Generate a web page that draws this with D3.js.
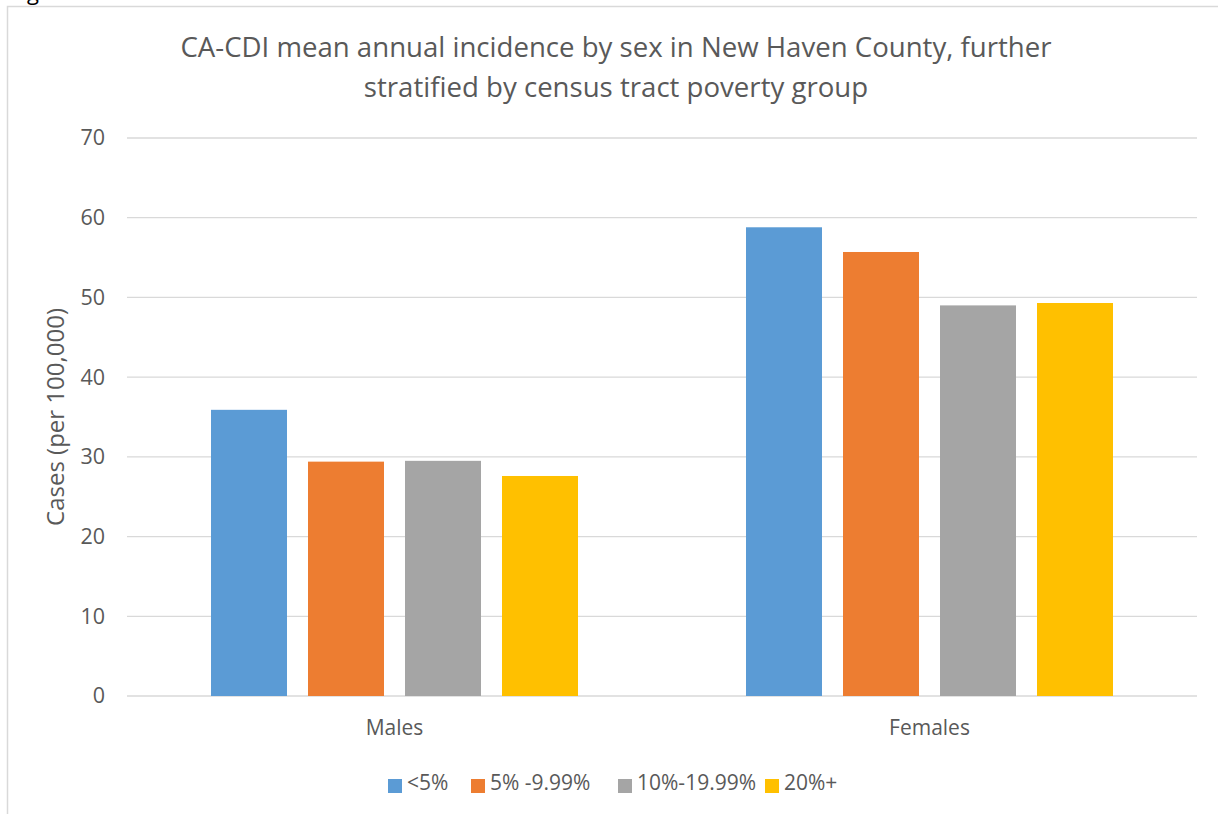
<!DOCTYPE html>
<html>
<head>
<meta charset="utf-8">
<script src="https://cdn.jsdelivr.net/npm/d3@7"></script>
<style>
  html, body { margin: 0; padding: 0; background: #fff; }
  svg { display: block; }
  text { font-family: "Open Sans", Lato, sans-serif; fill: #595959; }
</style>
</head>
<body>
<svg id="chart" width="1218" height="814"></svg>
<script>
// Chart data
const categories = ["Males", "Females"];
const groups = ["<5%", "5% -9.99%", "10%-19.99%", "20%+"];
const valuesLt5 = [35.9, 58.8];
const values5to10 = [29.4, 55.7];
const values10to20 = [29.5, 49.0];
const values20plus = [27.6, 49.3];
const yTicks = [0, 10, 20, 30, 40, 50, 60, 70];
const colors = ["#5B9BD5", "#ED7D31", "#A5A5A5", "#FFC000"];
const titleLines = [
  "CA-CDI mean annual incidence by sex in New Haven County, further",
  "stratified by census tract poverty group"
];

const series = [valuesLt5, values5to10, values10to20, values20plus];
const FONT = "'Open Sans', Lato, sans-serif";

const svg = d3.select("#chart");
const W = 1218, H = 814;
const margin = { left: 127, right: 21, top: 138, bottom: 118 };

// Fragment of caption above the chart frame
svg.append("text").attr("x", 27).attr("y", 0)
  .style("fill", "#000").style("font-size", "22px").text("g");

// Chart frame
svg.append("path")
  .attr("d", `M7.5,${H} V6.5 H${W}`)
  .attr("fill", "none").attr("stroke", "#D9D9D9").attr("stroke-width", 1.5);

const x0 = d3.scaleBand().domain(categories)
  .range([margin.left, W - margin.right]).paddingInner(0).paddingOuter(0);
const innerPad = 84;
const x1 = d3.scaleBand().domain(groups)
  .range([innerPad, x0.bandwidth() - innerPad]).paddingInner(21 / 97).paddingOuter(0);
const y = d3.scaleLinear().domain([0, 70]).range([H - margin.bottom, margin.top]);

// Gridlines
svg.append("g").selectAll("line").data(yTicks).join("line")
  .attr("x1", margin.left).attr("x2", W - margin.right)
  .attr("y1", d => y(d)).attr("y2", d => y(d))
  .attr("stroke", "#D9D9D9").attr("stroke-width", 1.3);

// Y axis labels
const yAxis = d3.axisLeft(y).tickValues(yTicks).tickSize(0).tickPadding(22);
const ya = svg.append("g").attr("transform", `translate(${margin.left},0)`).call(yAxis);
ya.select(".domain").remove();
ya.selectAll("text").style("font-size", "21.5px").style("fill", "#595959")
  .style("font-family", FONT);

// Bars
const gCat = svg.append("g").selectAll("g").data(categories).join("g")
  .attr("transform", d => `translate(${x0(d)},0)`);
gCat.selectAll("rect")
  .data((c, ci) => groups.map((g, gi) => ({ g, gi, v: series[gi][ci] })))
  .join("rect")
  .attr("x", d => x1(d.g)).attr("width", x1.bandwidth())
  .attr("y", d => y(d.v)).attr("height", d => y(0) - y(d.v))
  .attr("fill", d => colors[d.gi]);

// X axis labels
const xAxis = d3.axisBottom(x0).tickSize(0).tickPadding(24);
const xa = svg.append("g").attr("transform", `translate(0,${y(0)})`).call(xAxis);
xa.select(".domain").remove();
xa.selectAll("text").style("font-size", "21px").style("fill", "#595959")
  .style("font-family", FONT);

// Y axis title
svg.append("text")
  .attr("transform", `translate(64,${(y(0) + y(70)) / 2}) rotate(-90)`)
  .attr("text-anchor", "middle").style("font-size", "24px")
  .text("Cases (per 100,000)");

// Title
svg.append("g").selectAll("text").data(titleLines).join("text")
  .attr("x", 616).attr("y", (d, i) => 57 + i * 40)
  .attr("text-anchor", "middle").style("font-size", "27.6px")
  .text(d => d);

// Legend
const legendX = [388, 471, 618, 765];
const lg = svg.append("g").selectAll("g").data(groups).join("g")
  .attr("transform", (d, i) => `translate(${legendX[i]},779)`);
lg.append("rect").attr("width", 14).attr("height", 14)
  .attr("fill", (d, i) => colors[i]);
lg.append("text").attr("x", 19).attr("y", 11).style("font-size", "21px").text(d => d);
</script>
</body>
</html>
